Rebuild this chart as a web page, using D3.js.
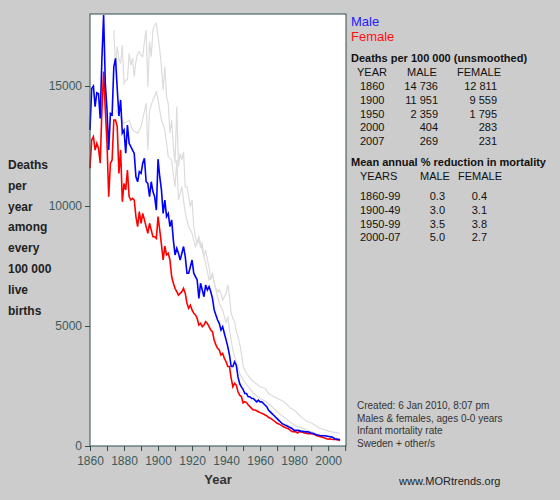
<!DOCTYPE html>
<html><head><meta charset="utf-8">
<script src="https://cdn.jsdelivr.net/npm/d3@7"></script>
<style>body{margin:0;background:#cccccc;}svg{display:block;font-family:"Liberation Sans",Arial,sans-serif;}</style>
</head><body><svg id="c" width="560" height="500"></svg>
<script>
const startYear = 1860;
const maleValues = [13170,14900,15000,14140,14720,14680,13650,16150,17960,15110,14000,12330,13860,13800,15800,16150,14900,13750,14420,13040,
13170,12200,13375,12610,12470,12330,12190,11220,11010,11430,11360,11780,11990,11010,10940,10390,11010,10600,10390,9830,
11951,11220,10670,9690,10250,9560,9690,9140,9420,8580,7960,8240,8030,7750,8030,8310,7890,7200,7200,7470,
7750,7200,7060,6920,6150,6780,6500,6220,6710,6500,6640,6430,6150,5670,5460,5250,5110,4830,4970,4690,
4420,4140,3790,3310,3310,3510,3370,2880,2600,2460,2359,2190,2190,2050,2050,1980,1980,1910,1840,1910,
1840,1840,1770,1700,1630,1490,1420,1350,1280,1210,1140,1070,1000,930,900,860,830,790,760,720,
650,650,650,640,620,610,600,590,590,570,540,530,500,470,460,440,430,430,430,420,
404,390,380,350,290,290,270,269];
const femaleValues = [11570,12750,12890,12330,12610,12400,11780,14000,15600,14000,12610,10390,11780,11920,13580,13580,13310,11360,12330,10180,
10940,10670,11500,10390,10250,10320,10250,9560,9140,9770,9280,9690,9420,9140,8860,9280,9000,8720,8720,8650,
9559,9000,8400,7750,8330,7960,8030,7750,7060,6780,6570,6430,6290,6360,6430,6570,6360,5950,5740,5870,
5670,5530,5460,5320,5040,5110,4970,5040,5180,5110,4970,4830,4760,4420,4210,4070,4000,3790,3860,3650,
3510,3310,3310,2820,2470,2610,2540,2260,2120,2060,1795,1850,1810,1720,1640,1570,1500,1500,1470,1430,
1390,1360,1330,1290,1250,1190,1160,1110,1060,1000,944,920,880,840,790,760,740,700,640,600,
600,590,540,600,580,570,540,530,510,520,510,500,480,440,420,400,380,350,330,300,
283,300,280,270,280,260,250,231];
const greyAYears = [1874,1875,1876,1877,1878,1879,1880,1881,1882,1883,1884,1885,1886,1887,1888,1889,1890,1891,1892,1893,1894,1895,1896,1897,1898,1899,
1900,1901,1902,1903,1904,1905,1906,1907,1908,1909,1910,1911,1912,1913,1914,1915,1916,1917,1918,1919,1920,1921,1922,1923,1924,1925,
1926,1927,1928,1929,1930,1931,1932,1933,1934,1935,1936,1937,1938,1939,1940,1941,1942,1943,1944,1945,1946,1947,1948,1949,
1950,1952,1955,1958,1960,1963,1965,1968,1970,1973,1975,1978,1980,1983,1985,1988,1990,1993,1995,1998,2000,2003,2005,2007];
const greyAValues = [17330,15800,16640,16150,15940,16710,15110,15250,15250,16360,15870,16150,15390,16010,16360,16430,16290,16220,16850,17330,14970,16850,16220,17330,17540,17610,
17060,16500,15800,14830,15800,14550,14280,13040,13580,12470,11780,14140,11640,12190,11920,12260,10800,10800,10390,9970,10250,9140,8720,8440,8580,8300,
8440,7890,8170,7750,7470,6920,7190,6780,6570,6430,6500,6360,6080,6220,6360,6710,6220,5530,5320,5180,4760,4560,4280,3860,
3310,3030,2750,2580,2470,2400,2190,2060,1990,1890,1780,1570,1500,1290,1150,1010,970,830,740,670,620,580,560,530];
const greyBYears = [1875,1880,1883,1885,1888,1890,1893,1894,1895,1897,1899,1900,1902,1904,1906,1908,1910,1911,1912,1914,1916,1918,1920,1922,
1924,1926,1928,1930,1932,1934,1936,1938,1940,1941,1942,1944,1946,1948,1950,1953,1956,1960,1965,1970,1975,1980,1985,1990,1995,2000,2005,2007];
const greyBValues = [14000,13440,13580,13170,13030,13300,14280,12330,14000,14420,14760,14420,13580,13170,12060,11920,10800,11920,10250,10800,9690,9140,8860,8300,
8720,8170,7610,6920,7190,6500,5940,5670,5110,5390,4830,4000,3440,3030,2750,2470,2190,1990,1780,1430,1150,870,740,600,460,390,320,280];
const yTicks = [0,5000,10000,15000];
const xTicks = d3.range(1860,2011,10);
const xLabels = [1860,1880,1900,1920,1940,1960,1980,2000];
const yTitle = ["Deaths","per","year","among","every","100 000","live","births"];
const tableHead = ["YEAR","MALE","FEMALE"];
const tableYears = ["1860","1900","1950","2000","2007"];
const tableMale = ["14 736","11 951","2 359","404","269"];
const tableFemale = ["12 811","9 559","1 795","283","231"];
const redHead = ["YEARS","MALE","FEMALE"];
const redYears = ["1860-99","1900-49","1950-99","2000-07"];
const redMale = ["0.3","3.0","3.5","5.0"];
const redFemale = ["0.4","3.1","3.8","2.7"];
const notes = ["Created: 6 Jan 2010, 8:07 pm","Males & females, ages 0-0 years","Infant mortality rate","Sweden + other/s"];

const svg = d3.select("#c");
const L=90,R=346,T=14,B=446, ax="#2f4f4f";
const x = d3.scaleLinear().domain([1860,2010.5]).range([L,R]);
const y = d3.scaleLinear().domain([0,18000]).range([B,T]);
svg.append("rect").attr("x",L).attr("y",T).attr("width",R-L).attr("height",B-T).attr("fill","#fff");
const line = d3.line().x(d=>x(d[0])).y(d=>y(d[1]));
const zip=(ys,vs)=>ys.map((yy,i)=>[yy,vs[i]]);
const seq=vs=>vs.map((v,i)=>[startYear+i,v]);
const g = svg.append("g");
g.append("path").datum(zip(greyAYears,greyAValues)).attr("d",line).attr("fill","none").attr("stroke","#dcdcdc").attr("stroke-width",1.2);
g.append("path").datum(zip(greyBYears,greyBValues)).attr("d",line).attr("fill","none").attr("stroke","#dcdcdc").attr("stroke-width",1.2);
g.append("path").datum(seq(femaleValues)).attr("d",line).attr("fill","none").attr("stroke","#ff0000").attr("stroke-width",1.6);
g.append("path").datum(seq(maleValues)).attr("d",line).attr("fill","none").attr("stroke","#0000ff").attr("stroke-width",1.6);
svg.append("rect").attr("x",L).attr("y",T).attr("width",R-L).attr("height",B-T).attr("fill","none").attr("stroke",ax);
const xa = svg.append("g").attr("transform",`translate(0,${B})`).call(d3.axisBottom(x).tickValues(xTicks).tickSize(5).tickFormat(d=>xLabels.includes(d)?d:""));
const ya = svg.append("g").attr("transform",`translate(${L},0)`).call(d3.axisLeft(y).tickValues(yTicks).tickSize(5).tickFormat(d=>d));
[xa,ya].forEach(a=>{a.select(".domain").remove();a.selectAll("line").attr("stroke",ax);a.selectAll("text").attr("fill","#3c5a5a").style("font-size","12px").style("font-family","Liberation Sans, Arial");});
xa.selectAll("text").attr("dy","0.9em");
svg.append("text").attr("x",218).attr("y",484).attr("text-anchor","middle").attr("font-weight","bold").attr("font-size",13).attr("fill","#333").text("Year");
yTitle.forEach((t,i)=>svg.append("text").attr("x",8).attr("y",169+i*20.8).attr("font-weight","bold").attr("font-size",12).attr("fill","#222").text(t));
const T1=(x0,y0,t,o={})=>svg.append("text").attr("x",x0).attr("y",y0).attr("font-size",o.s||11).attr("fill",o.c||"#111").attr("font-weight",o.b?"bold":null).attr("text-anchor",o.a||"start").text(t);
T1(351,26,"Male",{s:13,c:"#2020ff"});
T1(351,41,"Female",{s:13,c:"#ff1010"});
T1(351,62,"Deaths per 100 000 (unsmoothed)",{b:1,s:11});
T1(357,76,tableHead[0]);T1(407,76,tableHead[1]);T1(457,76,tableHead[2]);
tableYears.forEach((t,i)=>{const yy=90+i*13.8;T1(360,yy,t);T1(438,yy,tableMale[i],{a:"end"});T1(497,yy,tableFemale[i],{a:"end"});});
T1(351,166,"Mean annual % reduction in mortality",{b:1,s:11});
T1(360,180,redHead[0]);T1(420,180,redHead[1]);T1(458,180,redHead[2]);
redYears.forEach((t,i)=>{const yy=200+i*13.8;T1(360,yy,t);T1(445,yy,redMale[i],{a:"end"});T1(487,yy,redFemale[i],{a:"end"});});
notes.forEach((t,i)=>T1(357,409+i*12.5,t,{s:10,c:"#333"}));
T1(399,485,"www.MORtrends.org",{s:11,c:"#222"});
</script></body></html>
